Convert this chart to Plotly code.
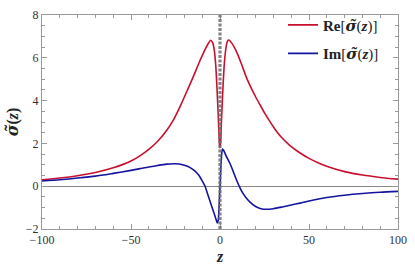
import plotly.graph_objects as go

# Values
z_re = [-100, -90, -80, -70, -60, -50, -45, -40, -35, -30, -26, -22, -18, -15, -12,
        -10, -8, -6.5, -5.3, -4.2, -3.2, -2.4, -1.7, -1.1, -0.6, -0.2, 0.3, 0.8, 1.3,
        1.9, 2.6, 3.5, 4.3, 5.1, 6.3, 8, 10, 12, 15, 17, 20, 22.5, 25, 28, 31, 34,
        39, 45, 50, 56, 62, 70, 80, 90, 100]
re_vals = [0.30, 0.38, 0.49, 0.64, 0.86, 1.18, 1.42, 1.72, 2.10, 2.60, 3.12, 3.80,
           4.55, 5.12, 5.72, 6.10, 6.45, 6.68, 6.82, 6.72, 6.35, 5.65, 4.60, 3.50,
           2.50, 1.80, 2.00, 3.00, 3.95, 5.00, 5.90, 6.55, 6.80, 6.83, 6.72, 6.50,
           6.15, 5.72, 5.05, 4.68, 4.18, 3.80, 3.43, 3.03, 2.65, 2.33, 1.92, 1.55,
           1.30, 1.06, 0.87, 0.68, 0.52, 0.41, 0.33]

z_im = [-100, -90, -80, -70, -60, -50, -45, -40, -35, -30, -26, -23, -20, -17, -14,
        -12, -10, -8.4, -7, -5.6, -4.2, -3, -2.1, -1.5, -1.0, -0.5, 0, 0.5, 1.0,
        1.4, 2, 3, 4, 5.6, 7, 8.5, 10, 11.5, 13, 15, 17, 20, 23, 26, 30, 35, 40,
        45, 50, 60, 70, 80, 90, 100]
im_vals = [0.24, 0.30, 0.38, 0.47, 0.60, 0.74, 0.82, 0.90, 0.97, 1.03, 1.05, 1.04,
           0.98, 0.88, 0.70, 0.52, 0.25, 0.00, -0.35, -0.70, -1.05, -1.35, -1.58,
           -1.72, -1.60, -0.90, 0.00, 0.90, 1.55, 1.74, 1.68, 1.50, 1.32, 1.06, 0.78,
           0.45, 0.15, -0.12, -0.35, -0.58, -0.76, -0.95, -1.05, -1.08, -1.05, -0.97,
           -0.88, -0.79, -0.69, -0.53, -0.42, -0.34, -0.28, -0.24]

x_ticks = [-100, -50, 0, 50, 100]
y_ticks = [-2, 0, 2, 4, 6, 8]

red = "#C8102E"
blue = "#1414A0"
frame = "#9a9a9a"
serif = "Liberation Serif"
SIG = '<span style="font-family:DejaVu Serif">σ̃</span>'

fig = go.Figure()
fig.add_trace(go.Scatter(
    x=z_re, y=re_vals, mode="lines",
    line=dict(color=red, width=1.6, shape="spline", smoothing=0.7),
    name=f"<b>Re</b>[<b><i>{SIG}</i></b>(<b><i>z</i></b>)]", legendgroup="re"))
fig.add_trace(go.Scatter(
    x=z_im, y=im_vals, mode="lines",
    line=dict(color=blue, width=1.6, shape="spline", smoothing=0.7),
    name=f"<b>Im</b>[<b><i>{SIG}</i></b>(<b><i>z</i></b>)]", legendgroup="im"))

fig.add_shape(type="line", xref="x", yref="paper", x0=0, x1=0, y0=0, y1=1,
              line=dict(color="rgba(110,110,110,0.85)", width=3.2, dash="3px,1.5px"),
              layer="above")

axis_common = dict(
    showline=True, linecolor=frame, linewidth=1, mirror="allticks",
    ticks="inside", ticklen=5, tickcolor=frame, tickwidth=1,
    showgrid=False, automargin=False,
    tickfont=dict(family=serif, size=12, color="#333"),
)

fig.update_xaxes(
    range=[-100, 100], tickvals=x_ticks, zeroline=False,
    minor=dict(dtick=10, ticks="inside", ticklen=3, tickcolor=frame, showgrid=False),
    title=dict(text="<b><i>z</i></b>", font=dict(family=serif, size=16, color="#222"),
               standoff=4),
    **axis_common)
fig.update_yaxes(
    range=[-2, 8], tickvals=y_ticks, zeroline=True, zerolinecolor="#888",
    zerolinewidth=1,
    minor=dict(dtick=0.5, ticks="inside", ticklen=3, tickcolor=frame, showgrid=False),
    title=dict(text=f"<b><i>{SIG}</i>(<i>z</i>)</b>",
               font=dict(family=serif, size=16, color="#222"), standoff=3),
    **axis_common)

fig.update_layout(
    width=415, height=267,
    margin=dict(l=42, r=17, t=9, b=38),
    paper_bgcolor="white", plot_bgcolor="white",
    legend=dict(x=0.677, y=1.03, xanchor="left", yanchor="top",
                bgcolor="rgba(0,0,0,0)", font=dict(family=serif, size=15, color="#222"),
                tracegroupgap=6, itemwidth=30),
    showlegend=True,
)

fig.write_html("out.html", post_script="document.body.style.margin='0';",
               config={"displayModeBar": False})
